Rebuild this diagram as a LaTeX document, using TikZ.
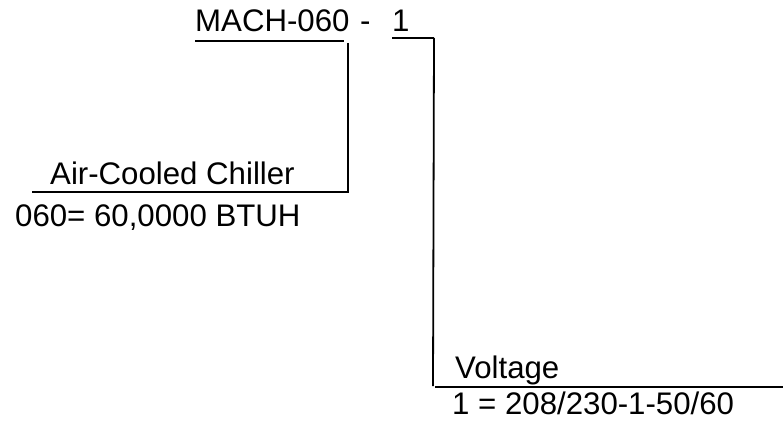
\documentclass[tikz,border=0pt]{standalone}
\usepackage{fontspec}
\setmainfont{Liberation Sans}
\begin{document}
\begin{tikzpicture}[x=1pt,y=-1pt,
  lbl/.style={anchor=base west,inner sep=0pt,font=\fontsize{31.2}{36}\selectfont},
  ln/.style={line width=1.8pt,black}]
\useasboundingbox (0,0) rectangle (783,430);
% header code
\node[lbl] (mach) at (195,32) {MACH-060};
\node[lbl] (dash) at (360,32) {-};
\node[lbl] (one) at (392,32) {1};
% descriptions
\node[lbl] (chiller) at (50,185) {Air-Cooled Chiller};
\node[lbl] (btuh) at (15,226) {060= 60,0000 BTUH};
\node[lbl] (volt) at (455,378) {Voltage};
\node[lbl] (vopt) at (452,414) {1 = 208/230-1-50/60};
% corner coordinates
\coordinate (m0) at (195,41);
\coordinate (m1) at (344,41);
\coordinate (a0) at (348,43);
\coordinate (a1) at (348,192);
\coordinate (a2) at (32,192);
\coordinate (o0) at (392,38);
\coordinate (o1) at (434,38);
\coordinate (o2) at (433,386);
\coordinate (v0) at (435,387);
\coordinate (v1) at (783,387);
% lines
\draw[ln] (m0) -- (m1);
\draw[ln] (a0) -- (a1) -- (a2);
\draw[ln] (o0) -- (o1);
\draw[ln] (o1) -- (o2);
\draw[ln] (v0) -- (v1);
\end{tikzpicture}
\end{document}
